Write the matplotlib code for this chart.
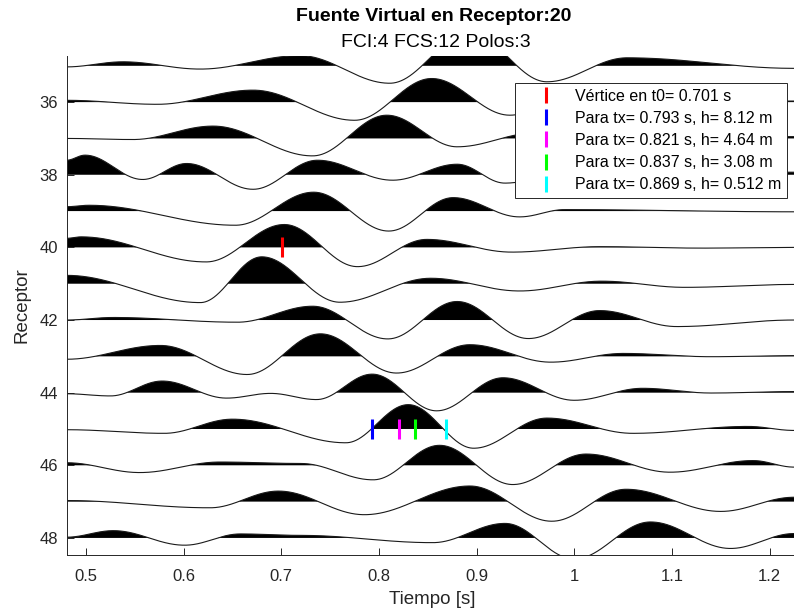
import numpy as np
import matplotlib.pyplot as plt

plt.rcParams['font.family'] = ['Liberation Sans', 'DejaVu Sans']

# picos y valles de cada traza (tiempo [s], amplitud en unidades de receptor)
t35 = [0.48, 0.538, 0.617, 0.719, 0.811, 0.893, 0.972, 1.054, 1.225]
a35 = [-0.03, 0.11, -0.09, 0.28, -0.48, 0.90, -0.44, 0.22, -0.07]
t36 = [0.48, 0.573, 0.671, 0.775, 0.854, 0.934, 1.00, 1.08, 1.225]
a36 = [0.05, -0.06, 0.33, -0.50, 0.65, -0.36, 0.20, -0.10, 0.03]
t37 = [0.48, 0.548, 0.630, 0.732, 0.808, 0.880, 0.96, 1.05, 1.225]
a37 = [0.0, -0.03, 0.34, -0.48, 0.64, -0.23, 0.15, -0.08, 0.05]
t38 = [0.48, 0.499, 0.558, 0.603, 0.671, 0.737, 0.814, 0.880, 0.929, 1.00, 1.225]
a38 = [0.40, 0.54, -0.13, 0.31, -0.40, 0.40, -0.15, 0.29, -0.23, 0.10, 0.07]
t39 = [0.48, 0.503, 0.653, 0.733, 0.810, 0.876, 0.944, 0.99, 1.225]
a39 = [0.12, 0.16, -0.39, 0.52, -0.55, 0.37, -0.16, 0.04, -0.02]
t40 = [0.48, 0.495, 0.623, 0.703, 0.778, 0.849, 0.936, 1.026, 1.13, 1.225]
a40 = [0.25, 0.29, -0.40, 0.63, -0.53, 0.22, -0.13, 0.02, -0.02, 0.0]
t41 = [0.48, 0.617, 0.680, 0.760, 0.853, 0.944, 1.028, 1.113, 1.225]
a41 = [0.23, -0.52, 0.74, -0.51, 0.15, -0.20, 0.07, -0.10, -0.02]
t42 = [0.48, 0.528, 0.655, 0.732, 0.809, 0.880, 0.953, 1.026, 1.105, 1.225]
a42 = [0.0, 0.07, -0.06, 0.38, -0.52, 0.51, -0.51, 0.26, -0.18, 0.0]
t43 = [0.48, 0.576, 0.665, 0.740, 0.818, 0.893, 0.976, 1.050, 1.14, 1.225]
a43 = [-0.08, 0.30, -0.50, 0.62, -0.46, 0.32, -0.16, 0.08, -0.01, 0.02]
t44 = [0.48, 0.525, 0.578, 0.644, 0.689, 0.736, 0.793, 0.859, 0.927, 1.000, 1.070, 1.14, 1.225]
a44 = [-0.03, -0.09, 0.32, -0.15, -0.02, -0.19, 0.51, -0.50, 0.41, -0.21, 0.12, -0.01, 0.03]
t45 = [0.48, 0.580, 0.650, 0.766, 0.830, 0.897, 0.972, 1.060, 1.178, 1.225]
a45 = [-0.02, -0.12, 0.27, -0.38, 0.67, -0.53, 0.30, -0.12, 0.07, -0.04]
t46 = [0.48, 0.555, 0.637, 0.72, 0.794, 0.862, 0.937, 1.012, 1.098, 1.183, 1.225]
a46 = [0.07, -0.20, 0.09, 0.05, -0.40, 0.55, -0.53, 0.31, -0.19, 0.13, -0.05]
t47 = [0.48, 0.627, 0.697, 0.785, 0.893, 0.977, 1.053, 1.150, 1.225]
a47 = [0.03, -0.17, 0.29, -0.36, 0.43, -0.54, 0.34, -0.27, 0.12]
t48 = [0.48, 0.528, 0.601, 0.658, 0.72, 0.855, 0.929, 1.000, 1.078, 1.160, 1.225]
a48 = [0.02, 0.20, -0.20, 0.11, 0.07, -0.13, 0.40, -0.58, 0.44, -0.29, 0.12]

receptores = list(range(35, 49))
tiempos = [t35, t36, t37, t38, t39, t40, t41, t42, t43, t44, t45, t46, t47, t48]
amplitudes = [a35, a36, a37, a38, a39, a40, a41, a42, a43, a44, a45, a46, a47, a48]

# vertice y puntos de hiperbola
rec_t0 = 40
t0 = 0.701
rec_tx = 45
tx = [0.793, 0.821, 0.837, 0.869]
h = [8.12, 4.64, 3.08, 0.512]
colores_tx = ['#0000ff', '#ff00ff', '#00ff00', '#00ffff']


def traza(tn, an, t):
    # curva suave entre picos (pendiente nula en cada extremo)
    tn = np.asarray(tn)
    an = np.asarray(an)
    i = np.clip(np.searchsorted(tn, t) - 1, 0, len(tn) - 2)
    s = (t - tn[i]) / (tn[i + 1] - tn[i])
    w = (1 - np.cos(np.pi * s)) / 2
    return an[i] + (an[i + 1] - an[i]) * w


fig = plt.figure(figsize=(7.94, 6.16), dpi=100)
ax = fig.add_axes([66.5 / 794, 1 - 555 / 616, (794 - 66.5) / 794, (555 - 56) / 616])

t = np.linspace(0.48, 1.225, 2000)
for r, tn, an in zip(receptores, tiempos, amplitudes):
    a = traza(tn, an, t)
    ax.fill_between(t, r, r - a, where=a > 0, interpolate=True, color='k', lw=0)
    ax.plot(t, r - a, color='#1a1a1a', lw=0.8)

ax.plot(t0, rec_t0, ls='none', marker='|', ms=15, mew=2.2, color='#ff0000',
        label='Vértice en t0= %.3f s' % t0, zorder=5)
for ti, hi, c in zip(tx, h, colores_tx):
    ax.plot(ti, rec_tx, ls='none', marker='|', ms=15, mew=2.2, color=c,
            label='Para tx= %.3f s, h= %.3g m' % (ti, hi), zorder=5)

ax.set_xlim(0.48, 1.225)
ax.set_ylim(48.47, 34.73)
ax.set_xticks([0.5, 0.6, 0.7, 0.8, 0.9, 1.0, 1.1, 1.2])
ax.set_xticklabels(['0.5', '0.6', '0.7', '0.8', '0.9', '1', '1.1', '1.2'])
ax.set_yticks(range(36, 49, 2))

gris = '#262626'
for lado in ['top', 'right']:
    ax.spines[lado].set_visible(False)
for lado in ['left', 'bottom']:
    ax.spines[lado].set_color(gris)
    ax.spines[lado].set_linewidth(0.7)
ax.tick_params(axis='both', direction='in', length=5, width=0.7, color=gris,
               labelcolor=gris, labelsize=12)
ax.tick_params(axis='x', pad=10)
ax.tick_params(axis='y', pad=6)

leg = ax.legend(loc='upper right', bbox_to_anchor=(0.990, 0.946), borderaxespad=0,
                fontsize=11.5, fancybox=False, framealpha=1, edgecolor=gris,
                markerscale=0.75, handlelength=3.1, handletextpad=0.27,
                labelspacing=0.45, borderpad=0.36)
leg.get_frame().set_linewidth(0.7)
leg.set_zorder(10)

fig.text(434 / 794, 1 - 21 / 616, 'Fuente Virtual en Receptor:20', ha='center',
         va='baseline', fontsize=14, fontweight='bold', color='k')
fig.text(436 / 794, 1 - 47 / 616, 'FCI:4 FCS:12 Polos:3', ha='center',
         va='baseline', fontsize=14, color='k')
fig.text(432 / 794, 1 - 600 / 616, 'Tiempo [s]', ha='center', va='center',
         fontsize=13.5, color=gris)
fig.text(22 / 794, 1 - 305 / 616, 'Receptor', ha='center', va='center',
         rotation=90, fontsize=13.5, color=gris)

fig.savefig('out.png', dpi=100)
